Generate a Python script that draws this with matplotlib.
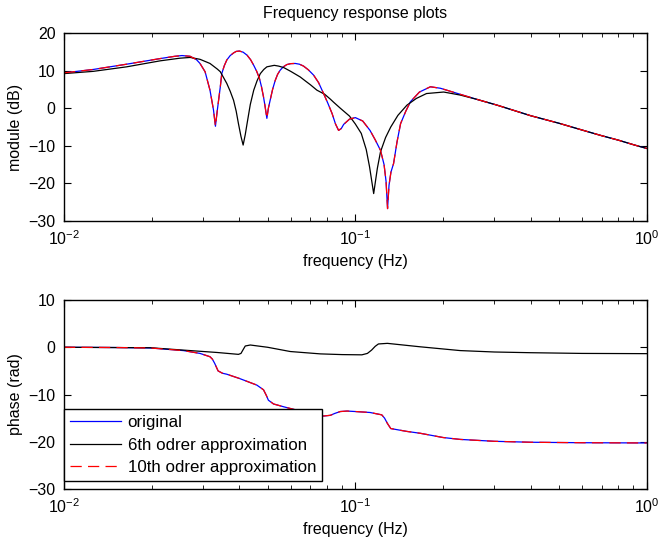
import matplotlib
matplotlib.use("Agg")
import matplotlib.pyplot as plt
from matplotlib.ticker import LogLocator, NullFormatter

plt.rcParams['font.family'] = ['Liberation Sans', 'DejaVu Sans']
plt.rcParams['font.size'] = 11.5

# magnitude, original system (dB)
f_mag = [0.010, 0.0126, 0.0164, 0.0214, 0.0240, 0.0254, 0.0271, 0.0285, 0.0293, 0.0305,
         0.0317, 0.0326, 0.0331, 0.0336, 0.0344, 0.0348, 0.0355, 0.0362, 0.0372, 0.0382,
         0.0390, 0.0400, 0.0412, 0.0425, 0.0437, 0.0448, 0.0458, 0.0468, 0.0476, 0.0484,
         0.0490, 0.0497, 0.0503, 0.0510, 0.0520, 0.0531, 0.0541, 0.0552, 0.0566, 0.0582,
         0.0600, 0.0622, 0.0643, 0.0664, 0.0690, 0.0719, 0.0748, 0.0778, 0.0805, 0.0832,
         0.0855, 0.0876, 0.0895, 0.0912, 0.0955, 0.100, 0.106, 0.1123, 0.117, 0.122,
         0.1255, 0.1275, 0.129, 0.1305, 0.1325, 0.1353, 0.1390, 0.1430, 0.1490, 0.1545,
         0.166, 0.181, 0.196, 0.229, 0.260, 0.307, 0.40, 0.50, 0.60, 0.70, 0.80, 0.90, 1.00]
mag_orig = [9.4, 10.3, 11.7, 13.2, 13.8, 14.0, 13.8, 12.9, 11.9, 9.7,
            4.8, -0.5, -4.8, -0.5, 5.7, 9.2, 11.3, 12.8, 14.0, 14.7,
            15.1, 15.2, 14.9, 14.1, 12.9, 11.4, 9.9, 8.1, 5.8, 3.0,
            0.5, -2.7, 0.0, 2.1, 5.0, 7.4, 9.0, 10.1, 11.0, 11.6,
            11.85, 11.9, 11.7, 11.2, 10.2, 8.8, 6.8, 3.9, 1.3, -1.4,
            -4.2, -5.9, -5.4, -4.3, -2.9, -2.5, -3.4, -5.9, -8.4, -11.2,
            -15.0, -19.5, -26.7, -20.5, -17.0, -14.7, -9.0, -4.1, -0.8, 1.7,
            4.3, 5.7, 5.3, 3.7, 2.4, 0.8, -2.0, -4.0, -5.8, -7.3, -8.5, -9.7, -10.7]
mag_10th = mag_orig

# magnitude, 6th order approximation (dB)
f_mag6 = [0.010, 0.0126, 0.0164, 0.0214, 0.0250, 0.0271, 0.0293, 0.0317, 0.0336, 0.0344,
          0.0362, 0.0372, 0.0382, 0.0390, 0.0397, 0.0405, 0.0412, 0.0419, 0.0425, 0.0436,
          0.0448, 0.0460, 0.0472, 0.0485, 0.0497, 0.0527, 0.0545, 0.0568, 0.0600, 0.0647,
          0.0675, 0.0702, 0.0738, 0.0785, 0.0821, 0.0842, 0.0888, 0.0955, 0.100, 0.1048,
          0.1090, 0.1119, 0.1156, 0.1190, 0.1220, 0.1270, 0.1323, 0.1400, 0.1503, 0.1620,
          0.1755, 0.201, 0.229, 0.260, 0.307, 0.40, 0.50, 0.60, 0.70, 0.80, 0.90, 1.00]
mag_6th = [9.2, 9.8, 11.0, 12.6, 13.3, 13.5, 13.0, 11.9, 10.4, 9.7,
           6.6, 4.5, 2.1, -0.8, -4.1, -7.5, -9.8, -7.0, -4.1, 1.0,
           4.8, 7.3, 9.2, 10.3, 11.0, 11.4, 11.2, 10.8, 9.8, 8.3,
           7.2, 6.2, 4.8, 3.7, 2.4, 1.6, 0.0, -2.1, -4.2, -6.7,
           -11.0, -15.6, -22.7, -16.0, -11.6, -7.8, -5.0, -1.9, 0.8, 2.6,
           3.9, 4.3, 3.5, 2.4, 0.8, -2.0, -4.0, -5.8, -7.3, -8.5, -9.7, -10.7]

# phase, original system (rad)
f_ph = [0.010, 0.015, 0.0198, 0.0257, 0.0293, 0.0317, 0.0323, 0.0329, 0.0338, 0.0350,
        0.0362, 0.0400, 0.0459, 0.0484, 0.0495, 0.0503, 0.0524, 0.0568, 0.062, 0.068,
        0.073, 0.0778, 0.0821, 0.0850, 0.0888, 0.0937, 0.100, 0.1123, 0.1232, 0.1260,
        0.1288, 0.1323, 0.150, 0.167, 0.200, 0.229, 0.30, 0.40, 0.60, 1.00]
ph_orig = [0.0, -0.05, -0.15, -0.7, -1.3, -2.0, -2.5, -3.4, -5.0, -5.5,
           -5.7, -6.6, -8.0, -9.0, -10.2, -11.2, -12.0, -12.6, -13.2, -13.8,
           -14.2, -14.55, -14.4, -14.0, -13.6, -13.5, -13.6, -13.8, -14.3, -15.0,
           -16.1, -17.2, -17.8, -18.2, -19.1, -19.5, -19.9, -20.1, -20.2, -20.25]
ph_10th = ph_orig

# phase, 6th order approximation (rad)
f_ph6 = [0.010, 0.0198, 0.0257, 0.0335, 0.0397, 0.0405, 0.0412, 0.0419, 0.0436, 0.050,
         0.0598, 0.0759, 0.090, 0.1053, 0.1100, 0.1137, 0.117, 0.120, 0.1288, 0.167,
         0.229, 0.30, 0.40, 0.60, 1.00]
ph_6th = [0.0, -0.1, -0.6, -1.1, -1.5, -1.3, -0.5, 0.27, 0.48, 0.0,
          -0.9, -1.4, -1.55, -1.6, -1.3, -0.6, 0.2, 0.7, 0.83, 0.1,
          -0.7, -1.0, -1.15, -1.3, -1.35]

fig = plt.figure(figsize=(6.59, 5.4), dpi=100)
ax1 = fig.add_axes([0.0971, 0.5907, 0.8842, 0.3482])
ax2 = fig.add_axes([0.0971, 0.0944, 0.8842, 0.3500])

dash = (0, (9, 5))

ax1.semilogx(f_mag, mag_orig, color='blue', lw=0.9, label='original')
ax1.semilogx(f_mag6, mag_6th, color='black', lw=0.9, label='6th odrer approximation')
ax1.semilogx(f_mag, mag_10th, color='red', lw=0.9, ls=dash, label='10th odrer approximation')
ax1.set_ylim(-30, 20)
ax1.set_yticks([-30, -20, -10, 0, 10, 20])
ax1.set_title('Frequency response plots', fontsize=11.5, pad=11)
ax1.set_xlabel('frequency (Hz)')
ax1.set_ylabel('module (dB)')

ax2.semilogx(f_ph, ph_orig, color='blue', lw=0.9, label='original')
ax2.semilogx(f_ph6, ph_6th, color='black', lw=0.9, label='6th odrer approximation')
ax2.semilogx(f_ph, ph_10th, color='red', lw=0.9, ls=dash, label='10th odrer approximation')
ax2.set_ylim(-30, 10)
ax2.set_yticks([-30, -20, -10, 0, 10])
ax2.set_xlabel('frequency (Hz)')
ax2.set_ylabel('phase (rad)')

leg = ax2.legend(loc='lower left', bbox_to_anchor=(0, 0.042), borderaxespad=0,
                 fancybox=False, framealpha=1, edgecolor='black', handlelength=3.0,
                 borderpad=0.35, labelspacing=0.45, handletextpad=0.4, fontsize=12.2)
leg.get_frame().set_linewidth(1.0)

for ax in (ax1, ax2):
    ax.set_xlim(0.01, 1)
    ax.xaxis.set_major_locator(LogLocator(base=10, numticks=10))
    ax.xaxis.set_minor_locator(LogLocator(base=10, subs=range(2, 10), numticks=10))
    ax.xaxis.set_minor_formatter(NullFormatter())
    ax.tick_params(which='both', direction='in', top=True, right=True)
    ax.tick_params(which='major', length=5, pad=6)
    ax.tick_params(which='minor', length=3)
    for s in ax.spines.values():
        s.set_linewidth(1.0)

fig.savefig('out.png', dpi=100)
